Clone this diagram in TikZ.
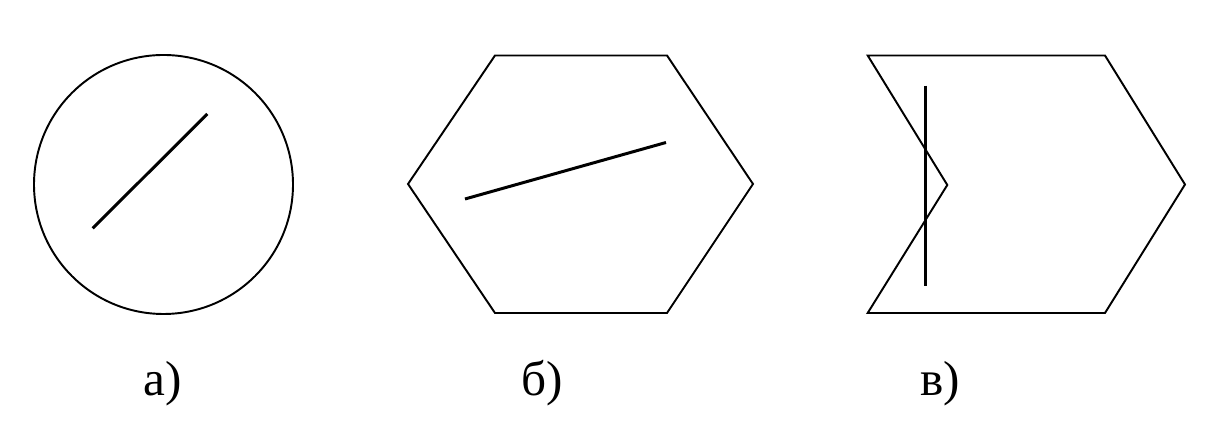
\documentclass[tikz,border=0pt]{standalone}
\usepackage{fontspec}
\setmainfont{Liberation Serif}
\newfontfamily\capfont[Script=Cyrillic]{Liberation Serif}
\usetikzlibrary{positioning}

\begin{document}
\begin{tikzpicture}[
x=0.02cm,
y=-0.02cm,
outline/.style={draw, line width=1.1pt, line join=miter},
stroke/.style={draw, line width=1.7pt},
caption/.style={anchor=base, inner sep=0pt, font=\capfont\fontsize{28}{33}\selectfont}
]
\useasboundingbox (0,0) rectangle (1205,431);

% a) circle
\draw[outline] (163.5,184.5) circle (129.5*0.02cm);
\coordinate (a1) at (92.7,228.3);
\coordinate (a2) at (207.3,114);
\draw[stroke] (a1) -- (a2);

% b) hexagon
\draw[outline] (408,184) -- (495,55.5) -- (667,55.5) -- (753,184)
  -- (667,313) -- (495,313) -- cycle;
\coordinate (b1) at (465,199);
\coordinate (b2) at (666,142.5);
\draw[stroke] (b1) -- (b2);

% v) notched shape
\draw[outline] (867.7,55.5) -- (1105,55.5) -- (1185,184.5) -- (1105,313)
  -- (867.7,313) -- (947.3,185) -- cycle;
\coordinate (v1) at (925.3,85.7);
\coordinate (v2) at (925.3,286);
\draw[stroke] (v1) -- (v2);

\node[caption] (capa) at (163,396) {а)};
\node[caption] (capb) at (542,396) {б)};
\node[caption] (capv) at (940,396) {в)};

\end{tikzpicture}
\end{document}
